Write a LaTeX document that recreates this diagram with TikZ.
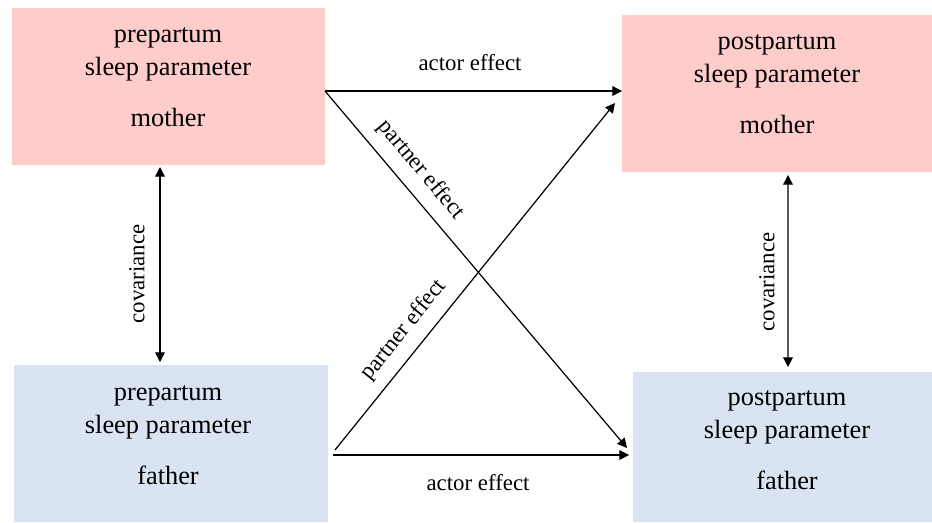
\documentclass[tikz,border=0pt]{standalone}
\usepackage{fontspec}
\setmainfont{Liberation Serif}
\usetikzlibrary{calc,arrows.meta}

\definecolor{momfill}{RGB}{255,204,204}
\definecolor{dadfill}{RGB}{218,227,242}

\begin{document}
\begin{tikzpicture}[x=0.02cm, y=-0.02cm,
  box/.style={inner sep=0pt, outer sep=0pt, minimum height=3.14cm},
  boxtext/.style={align=center, font=\fontsize{15}{19}\selectfont},
  lbl/.style={font=\fontsize{13}{15}\selectfont, inner sep=0pt},
  effect/.style={line width=0.7pt, -{Triangle[length=5.5pt,width=5.5pt]}},
  cov/.style={line width=0.7pt, {Triangle[length=5.5pt,width=5.5pt]}-{Triangle[length=5.5pt,width=5.5pt]}}]
  \useasboundingbox (0,0) rectangle (932,522);

  % the four boxes
  \node (pm) at (168.5, 86.5) [box, fill=momfill, minimum width=6.26cm] {};
  \node (pf) at (171.0,443.5) [box, fill=dadfill, minimum width=6.28cm] {};
  \node (qm) at (777.0, 93.5) [box, fill=momfill, minimum width=6.20cm] {};
  \node (qf) at (782.5,447.0) [box, fill=dadfill, minimum width=5.98cm, minimum height=3.0cm] {};

  \node (pmtext) at (168, 77) [boxtext] {prepartum\\sleep parameter\\[9.5pt]mother};
  \node (pftext) at (168,435) [boxtext] {prepartum\\sleep parameter\\[9.5pt]father};
  \node (qmtext) at (777, 84) [boxtext] {postpartum\\sleep parameter\\[9.5pt]mother};
  \node (qftext) at (787,440) [boxtext] {postpartum\\sleep parameter\\[9.5pt]father};

  % effects
  \draw [effect] ($(pm.east)+(0,4.5)$) coordinate (a1) -- (a1 -| qm.west);
  \draw [effect] (a1) -- ($(qf.west)+(-6,1)$);
  \draw [effect] ($(pf.east)+(7,6.5)$) -- ($(qm.west)+(-7,9.5)$);
  \draw [effect] ($(pf.east)+(5,11.5)$) coordinate (a4) -- ($(a4 -| qf.west)+(-4,0)$);

  \draw [cov] ($(pm.south)+(-8.5,2)$) -- ($(pf.north)+(-11,-3)$);
  \draw [cov] ($(qm.south)+(11,3)$) -- ($(qf.north)+(5.5,-5)$);

  \node (actor1) at (470, 63) [lbl] {actor effect};
  \node (actor2) at (478,483) [lbl] {actor effect};
  \node (partner1) at (421,170) [lbl, rotate=-50] {partner effect};
  \node (partner2) at (404,330) [lbl, rotate=51] {partner effect};
  \node (cov1) at (137,274) [lbl, rotate=90] {covariance};
  \node (cov2) at (767,282) [lbl, rotate=90] {covariance};
\end{tikzpicture}
\end{document}
